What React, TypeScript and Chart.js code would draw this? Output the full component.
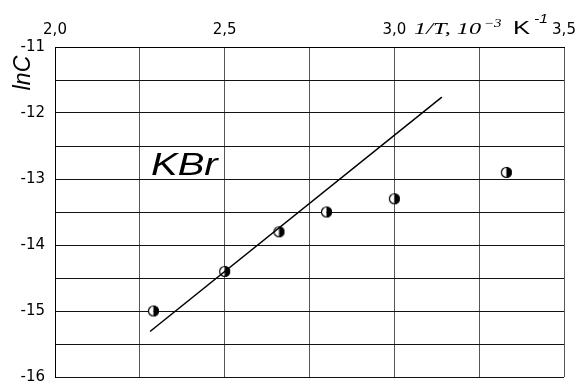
import React, { useEffect, useRef } from 'react';
import { Chart, registerables } from 'chart.js';
Chart.register(...registerables);

// measured points: 1/T (10^-3 K^-1) vs lnC
const invT = [2.29, 2.5, 2.66, 2.8, 3.0, 3.33];
const lnCvals = [-15.0, -14.4, -13.8, -13.5, -13.3, -12.9];
// fitted straight line end points
const fitX = [2.28, 3.14];
const fitY = [-15.31, -11.76];
// labelled ticks
const xTickLabels = [2.0, 2.5, 3.0, 3.5];
const yTickLabels = [-16, -15, -14, -13, -12, -11];

function makeMarker(): HTMLCanvasElement {
  const c = document.createElement('canvas');
  c.width = 13;
  c.height = 13;
  const g = c.getContext('2d')!;
  const cx = 6.5;
  const r = 5.5;
  g.beginPath();
  g.arc(cx, cx, r, Math.PI / 2, Math.PI * 1.5);
  g.closePath();
  g.fillStyle = '#fff';
  g.fill();
  g.beginPath();
  g.arc(cx, cx, r, -Math.PI / 2, Math.PI / 2);
  g.closePath();
  g.fillStyle = '#000';
  g.fill();
  g.beginPath();
  g.arc(cx, cx, r - 0.5, 0, Math.PI * 2);
  g.lineWidth = 1.2;
  g.strokeStyle = '#000';
  g.stroke();
  return c;
}

function txt(ctx: CanvasRenderingContext2D, s: string, x: number, y: number, font: string, sx = 1) {
  ctx.save();
  ctx.translate(x, y);
  ctx.scale(sx, 1);
  ctx.font = font;
  ctx.fillStyle = '#000';
  ctx.textAlign = 'left';
  ctx.textBaseline = 'alphabetic';
  ctx.fillText(s, 0, 0);
  ctx.restore();
}

const textPlugin = {
  id: 'texts',
  afterDraw(chart: any) {
    const ctx = chart.ctx as CanvasRenderingContext2D;
    // y axis title
    ctx.save();
    ctx.translate(30, 73);
    ctx.rotate(-Math.PI / 2);
    ctx.font = 'italic 23px "Liberation Sans", Arial, sans-serif';
    ctx.fillStyle = '#000';
    ctx.textAlign = 'center';
    ctx.textBaseline = 'alphabetic';
    ctx.fillText('lnC', 0, 0);
    ctx.restore();
    // x axis title
    txt(ctx, '1/T, 10', 414, 34, 'italic 16px "Liberation Serif", "Times New Roman", serif', 1.52);
    txt(ctx, '\u22123', 484, 27, 'italic 12px "Liberation Serif", "Times New Roman", serif', 1.25);
    txt(ctx, 'K', 513, 34, '19px "Liberation Sans", Arial, sans-serif', 1.35);
    txt(ctx, '-1', 534, 23, 'italic 12px "Liberation Sans", Arial, sans-serif', 1.3);
    // sample label
    txt(ctx, 'KBr', 151, 175, 'italic 32px "Liberation Sans", Arial, sans-serif', 1.25);
  },
};

export default function App() {
  const ref = useRef<HTMLCanvasElement | null>(null);
  useEffect(() => {
    document.body.style.margin = '0';
    const marker = makeMarker();
    const chart = new Chart(ref.current!, {
      type: 'scatter',
      data: {
        datasets: [
          {
            label: 'fit',
            data: fitX.map((x, i) => ({ x, y: fitY[i] })),
            showLine: true,
            borderColor: '#000',
            borderWidth: 1.5,
            pointRadius: 0,
            pointHoverRadius: 0,
          } as any,
          {
            label: 'KBr',
            data: invT.map((x, i) => ({ x, y: lnCvals[i] })),
            pointStyle: marker,
            pointRadius: 6,
            showLine: false,
          } as any,
        ],
      },
      options: {
        animation: false,
        responsive: false,
        events: [],
        layout: { padding: { left: 0, top: 0, right: 16, bottom: 11 } },
        plugins: { legend: { display: false }, tooltip: { enabled: false } },
        scales: {
          x: {
            type: 'linear',
            position: 'top',
            min: 2,
            max: 3.5,
            afterFit: (s: any) => { s.height = 47; s.paddingLeft = 0; s.paddingRight = 0; },
            ticks: {
              stepSize: 0.25,
              padding: 8,
              color: '#000',
              font: { family: '"DejaVu Sans", sans-serif', size: 15 },
              callback: (v: any) => {
                const n = Number(v);
                return xTickLabels.some((t) => Math.abs(t - n) < 1e-6) ? n.toFixed(1).replace('.', ',') : '';
              },
            },
            grid: { color: '#555', lineWidth: 1, drawTicks: false },
            border: { display: true, color: '#000', width: 1 },
          },
          y: {
            type: 'linear',
            min: -16,
            max: -11,
            afterFit: (s: any) => { s.width = 55; s.paddingTop = 0; s.paddingBottom = 0; },
            ticks: {
              stepSize: 0.5,
              padding: 10,
              color: '#000',
              font: { family: '"DejaVu Sans", sans-serif', size: 15 },
              callback: (v: any) => {
                const n = Number(v);
                return yTickLabels.some((t) => Math.abs(t - n) < 1e-6) ? String(n) : '';
              },
            },
            grid: { color: '#111', lineWidth: 1, drawTicks: false },
            border: { display: true, color: '#000', width: 1 },
          },
        },
      },
      plugins: [textPlugin],
    });
    return () => chart.destroy();
  }, []);
  return (
    <canvas
      ref={ref}
      width={580}
      height={388}
      style={{ position: 'fixed', left: 0, top: 0, width: 580, height: 388, background: '#fff' }}
    />
  );
}
